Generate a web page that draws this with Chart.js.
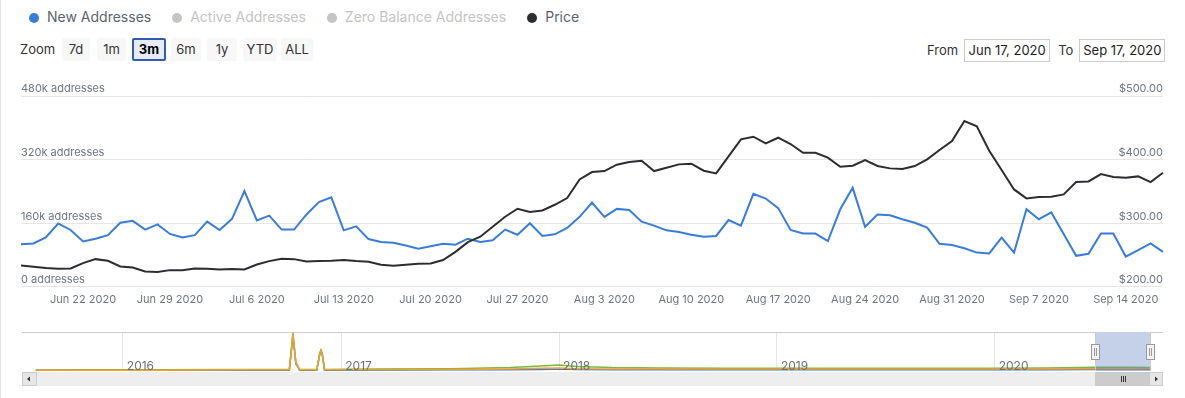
<!DOCTYPE html>
<html>
<head>
<meta charset="utf-8">
<script src="https://cdn.jsdelivr.net/npm/chart.js@4.4.1/dist/chart.umd.min.js"></script>
<style>
body { margin: 0; background: #fff; font-family: Inter, "Noto Sans", sans-serif; }
#wrap { position: relative; width: 1185px; height: 398px; overflow: hidden; border-left: 1px solid #e3e3e3; box-sizing: border-box; }
#legend { position: absolute; left: 28px; top: 8px; font-size: 14px; white-space: nowrap; }
#legend span { display: inline-block; margin-right: 21px; }
#legend i { display: inline-block; width: 10px; height: 10px; border-radius: 50%; margin-right: 8px; vertical-align: -1px; }
#zoom { position: absolute; left: 0; top: 38px; font-size: 13px; color: #333; }
#zoom b { position: absolute; left: 19px; top: 0; line-height: 23px; font-weight: normal; }
.btn { position: absolute; top: 0; height: 23px; line-height: 23px; background: #f7f7f7; border-radius: 2px; text-align: center; box-sizing: border-box; color: #333; }
.btn.on { background: #e6ebf5; border: 2px solid #335cad; line-height: 19px; font-weight: bold; color: #000; }
#range { position: absolute; top: 39px; left: 926px; font-size: 13px; color: #333; }
#range .box { display: inline-block; border: 1px solid #ccc; height: 23px; line-height: 21px; box-sizing: border-box; width: 86px; text-align: center; margin-left: 6px; margin-right: 8px; color: #222; }
#main { position: absolute; left: -1px; top: 76px; }
#nav { position: absolute; left: -1px; top: 326px; }
</style>
</head>
<body>
<div id="wrap">
  <div id="legend"></div>
  <div id="zoom"></div>
  <div id="range">From<span class="box">Jun 17, 2020</span>To<span class="box">Sep 17, 2020</span></div>
  <canvas id="main" width="1185" height="246"></canvas>
  <canvas id="nav" width="1185" height="64"></canvas>
</div>
<script>
// legend / toolbar
var seriesNames = ["New Addresses", "Active Addresses", "Zero Balance Addresses", "Price"];
var seriesColors = ["#3a7dd8", "#c4c4c4", "#c4c4c4", "#2b2d30"];
var seriesText = ["#5a6470", "#c4c4c4", "#c4c4c4", "#5a6470"];
var zoomButtons = ["7d", "1m", "3m", "6m", "1y", "YTD", "ALL"];
var zoomLefts = [61, 96, 131, 170, 206, 242, 280];
var zoomWidths = [28, 29, 34, 30, 30, 34, 32];

// main chart data, one value per day from Jun 17 2020
var startDate = new Date(2020, 5, 17);
var newAddresses = [
	107, 109, 124, 159, 143, 114, 121, 130, 161, 166,
	144, 157, 133, 124, 130, 164, 143, 171, 241, 167,
	179, 144, 144, 182, 213, 225, 142, 152, 120, 113,
	111, 104, 96, 102, 108, 106, 121, 113, 117, 144,
	131, 160, 128, 132, 148, 176, 212, 176, 196, 193,
	164, 154, 142, 138, 131, 126, 128, 168, 154, 234,
	222, 198, 143, 134, 134, 115, 195, 249, 151, 182,
	180, 170, 161, 149, 108, 105, 97, 86, 84, 124,
	86, 195, 170, 187, 133, 78, 83, 134, 134, 76,
	92, 109, 88
];
var price = [
	233.6, 231.5, 229.4, 228.3, 228.8, 237.2, 243.5, 240.9, 232.0, 230.4,
	224.1, 223.1, 226.2, 226.2, 228.8, 228.3, 227.3, 227.8, 227.3, 235.1,
	240.4, 244.0, 243.5, 239.9, 240.4, 240.9, 242.0, 240.4, 239.3, 234.6,
	233.0, 234.6, 236.2, 236.7, 242.0, 255.0, 270.3, 278.7, 294.4, 310.1,
	322.7, 317.5, 320.1, 329.0, 339.5, 368.9, 380.4, 382.0, 392.0, 396.2,
	398.3, 382.0, 387.2, 392.5, 393.5, 382.5, 378.3, 405.1, 431.8, 436.0,
	425.5, 434.4, 424.5, 410.8, 410.8, 403.0, 388.8, 390.4, 399.3, 389.9,
	386.2, 385.1, 389.9, 400.3, 415.0, 429.2, 460.7, 452.3, 414.0, 383.6,
	353.1, 339.0, 341.1, 341.6, 345.3, 364.7, 365.7, 377.3, 372.5, 371.5,
	373.6, 364.7, 379.4
];
var addrTicks = [0, 160, 320, 480];
var priceTicks = [200, 300, 400, 500];

// navigator: days since Jan 1 2016
var navDays = [-146, -60, 60, 200, 279, 285, 290, 293, 296, 325, 330, 332, 334, 338, 420, 550, 650, 700, 731, 760, 820, 900, 1000, 1100, 1200, 1300, 1400, 1461, 1550, 1629, 1680, 1721];
var navActive = [0, 1, 1, 2, 2, 96, 20, 12, 2, 2, 45, 53, 45, 2, 3, 4, 7, 11, 14, 10, 7, 6, 5, 5, 5, 5, 5, 5, 6, 8, 8, 7];
var navZero = [0, 0, 0, 1, 1, 93, 18, 11, 1, 1, 43, 52, 43, 1, 1, 2, 3, 5, 6, 4, 3, 3, 3, 3, 3, 3, 3, 3, 3, 4, 4, 4];
var navNew = [0, 0, 0, 0, 0, 90, 16, 10, 0, 0, 42, 50, 42, 0, 0, 1, 1, 2, 3, 2, 1, 1, 1, 1, 1, 1, 1, 1, 1, 2, 2, 2];
var navYears = ["2016", "2017", "2018", "2019", "2020"];
var navYearDays = [0, 366, 731, 1096, 1461];
var navFrom = 1629, navTo = 1721;

var legendHtml = '';
for (var i = 0; i < seriesNames.length; i++) {
	legendHtml += '<span style="color:' + seriesText[i] + '"><i style="background:' + seriesColors[i] + '"></i>' + seriesNames[i] + '</span>';
}
document.getElementById("legend").innerHTML = legendHtml;
var zoomHtml = '<b>Zoom</b>';
for (var i = 0; i < zoomButtons.length; i++) {
	zoomHtml += '<span class="btn' + (zoomButtons[i] == "3m" ? ' on' : '') + '" style="left:' + zoomLefts[i] + 'px;width:' + zoomWidths[i] + 'px">' + zoomButtons[i] + '</span>';
}
document.getElementById("zoom").innerHTML = zoomHtml;

var months = ["Jan", "Feb", "Mar", "Apr", "May", "Jun", "Jul", "Aug", "Sep", "Oct", "Nov", "Dec"];
var labels = [];
for (var i = 0; i < newAddresses.length; i++) {
	var d = new Date(startDate.getTime());
	d.setDate(d.getDate() + i);
	labels.push(months[d.getMonth()] + " " + d.getDate() + " " + d.getFullYear());
}

var tickColor = "#6e7681";
var font = { family: "Inter", size: 11 };

new Chart(document.getElementById("main"), {
	type: "line",
	data: {
		labels: labels,
		datasets: [{
			label: "Price",
			data: price,
			yAxisID: "yPrice",
			borderColor: "#2b2d30",
			borderWidth: 2,
			pointRadius: 0,
			tension: 0
		}, {
			label: "New Addresses",
			data: newAddresses.map(function (v) { return v * 1000; }),
			yAxisID: "yAddr",
			borderColor: "#3a7dd8",
			borderWidth: 2,
			pointRadius: 0,
			tension: 0
		}]
	},
	options: {
		responsive: false,
		animation: false,
		layout: { padding: { left: 21, right: 22, top: 20, bottom: 10 } },
		plugins: { legend: { display: false }, tooltip: { enabled: false } },
		scales: {
			x: {
				offset: false,
				grid: { display: false, drawTicks: false },
				border: { display: false },
				ticks: {
					autoSkip: false, maxRotation: 0, padding: 6, color: tickColor, font: font,
					callback: function (v, i) { return (i - 5) % 7 === 0 ? labels[i] : null; }
				}
			},
			yAddr: {
				position: "left",
				min: 0, max: 480000,
				afterBuildTicks: function (s) { s.ticks = addrTicks.map(function (v) { return { value: v * 1000 }; }); },
				grid: { color: "#e6e6e6", drawTicks: false },
				border: { display: false },
				ticks: {
					mirror: true, padding: 0, labelOffset: -7, color: tickColor, font: font,
					callback: function (v) { return (v / 1000) + (v ? "k" : "") + " addresses"; }
				}
			},
			yPrice: {
				position: "right",
				min: 200, max: 500,
				afterBuildTicks: function (s) { s.ticks = priceTicks.map(function (v) { return { value: v }; }); },
				grid: { display: false, drawTicks: false },
				border: { display: false },
				ticks: {
					mirror: true, padding: 0, labelOffset: -7, color: tickColor, font: font,
					callback: function (v) { return "$" + v.toFixed(2); }
				}
			}
		}
	}
});

// navigator extras: year labels, selection, handles, scrollbar
var navExtras = {
	id: "navExtras",
	afterDraw: function (chart) {
		var c = chart.ctx, a = chart.chartArea, x = chart.scales.x;
		c.save();
		c.font = "12px Inter";
		c.fillStyle = "#707070";
		c.textBaseline = "alphabetic";
		for (var i = 0; i < navYears.length; i++) {
			c.fillText(navYears[i], x.getPixelForValue(navYearDays[i]) + 4, a.bottom - 1);
		}
		var x1 = Math.round(x.getPixelForValue(navFrom)), x2 = Math.round(x.getPixelForValue(navTo));
		c.fillStyle = "rgba(102,133,194,0.38)";
		c.fillRect(x1, a.top, x2 - x1, a.bottom - a.top);
		// outline
		c.strokeStyle = "#cccccc";
		c.lineWidth = 1;
		c.beginPath();
		c.moveTo(a.left, a.top + 0.5); c.lineTo(x1, a.top + 0.5);
		c.moveTo(x2, a.top + 0.5); c.lineTo(a.right, a.top + 0.5);
		c.moveTo(x1 + 0.5, a.top); c.lineTo(x1 + 0.5, a.bottom);
		c.moveTo(x2 + 0.5, a.top); c.lineTo(x2 + 0.5, a.bottom);
		c.stroke();
		// handles
		[x1, x2].forEach(function (hx) {
			c.fillStyle = "#f2f2f2";
			c.strokeStyle = "#999999";
			c.fillRect(hx - 4, a.top + 12, 8, 15);
			c.strokeRect(hx - 3.5, a.top + 12.5, 8, 15);
			c.beginPath();
			c.moveTo(hx - 0.5, a.top + 16); c.lineTo(hx - 0.5, a.top + 24);
			c.moveTo(hx + 1.5, a.top + 16); c.lineTo(hx + 1.5, a.top + 24);
			c.stroke();
		});
		// scrollbar
		var sy = a.bottom + 1, sh = 14;
		c.fillStyle = "#eeeeee";
		c.fillRect(a.left, sy, a.right - a.left, sh);
		c.fillStyle = "#e6e6e6";
		c.strokeStyle = "#cccccc";
		c.fillRect(a.left, sy, 14, sh);
		c.strokeRect(a.left + 0.5, sy + 0.5, 14, sh - 1);
		c.fillRect(a.right - 13, sy, 13, sh);
		c.strokeRect(a.right - 13.5, sy + 0.5, 13, sh - 1);
		c.fillStyle = "#cccccc";
		c.fillRect(x1, sy, x2 - x1, sh);
		c.fillStyle = "#333333";
		c.beginPath();
		c.moveTo(a.left + 5, sy + 7); c.lineTo(a.left + 8, sy + 4.5); c.lineTo(a.left + 8, sy + 9.5); c.fill();
		c.beginPath();
		c.moveTo(a.right - 5, sy + 7); c.lineTo(a.right - 8, sy + 4.5); c.lineTo(a.right - 8, sy + 9.5); c.fill();
		c.strokeStyle = "#333333";
		c.beginPath();
		var mid = Math.round((x1 + x2) / 2);
		for (var k = -2; k <= 2; k += 2) { c.moveTo(mid + k + 0.5, sy + 4); c.lineTo(mid + k + 0.5, sy + 10); }
		c.stroke();
		c.restore();
	}
};

function navSeries(vals) {
	return vals.map(function (v, i) { return { x: navDays[i], y: v }; });
}

new Chart(document.getElementById("nav"), {
	type: "line",
	data: {
		datasets: [{
			data: navSeries(navZero), borderColor: "#f0a030", borderWidth: 1.5, pointRadius: 0, tension: 0
		}, {
			data: navSeries(navActive), borderColor: "#7cb83c", borderWidth: 1.5, pointRadius: 0, tension: 0
		}, {
			data: navSeries(navNew), borderColor: "#3a7dd8", borderWidth: 1.5, pointRadius: 0, tension: 0
		}]
	},
	plugins: [navExtras],
	options: {
		responsive: false,
		animation: false,
		layout: { padding: { left: 22, right: 22, top: 6, bottom: 19 } },
		plugins: { legend: { display: false }, tooltip: { enabled: false } },
		scales: {
			x: {
				type: "linear", min: -169, max: 1743,
				afterBuildTicks: function (s) { s.ticks = navYearDays.map(function (v) { return { value: v }; }); },
				grid: { color: "#e6e6e6", drawTicks: false },
				border: { display: false },
				ticks: { display: false }
			},
			y: {
				display: false, min: -2, max: 100
			}
		}
	}
});
</script>
</body>
</html>
